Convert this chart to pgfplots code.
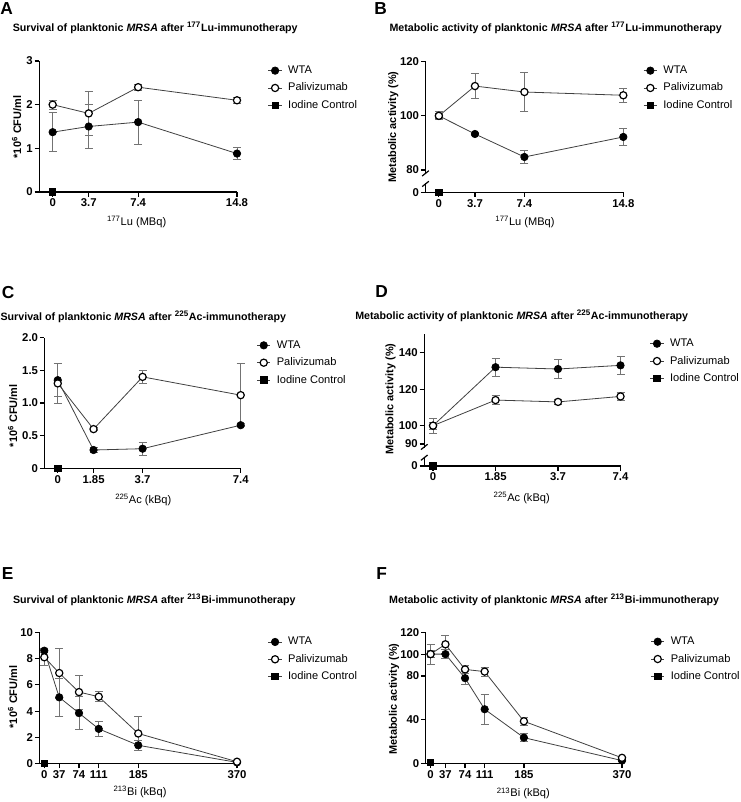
\documentclass[border=0pt]{standalone}
\usepackage{fontspec}
\setmainfont{Liberation Sans}
\usepackage{pgfplots}
\pgfplotsset{compat=1.18}
\pgfplotsset{
 base/.style={
   scale only axis, clip=false,
   axis x line=bottom, axis y line=left,
   axis line style={-, line width=0.9pt, black},
   tick align=outside, major tick length=3.5pt,
   tick style={black, line width=0.9pt},
   /pgf/number format/assume math mode=true,
   ticklabel style={font=\bfseries\fontsize{8.5}{9.5}\selectfont},
   yticklabel style={inner sep=1.2pt},
   xticklabel style={inner sep=1.5pt},
   legend style={draw=none, fill=none, inner sep=0pt, outer sep=0pt, anchor=west,
     font=\fontsize{8.3}{9.3}\selectfont, row sep=5.1pt, column sep=4.5pt,
     nodes={inner sep=0pt, text height=6.2pt, text depth=1.7pt}},
   legend cell align=left,
   legend image code/.code={\draw[mark repeat=2,mark phase=2] plot coordinates {(0pt,0pt) (5pt,0pt) (10pt,0pt)};},
 },
 wta/.style={black!75, line width=0.6pt, mark=*, mark size=2.8pt,
   mark options={solid, fill=black, draw=black, line width=0.5pt},
   error bars/y dir=both, error bars/y explicit,
   error bars/error bar style={black!55, line width=0.6pt},
   error bars/error mark options={rotate=90, black!55, mark size=3pt, line width=0.6pt}},
 pali/.style={black!75, line width=0.6pt, mark=*, mark size=2.7pt,
   mark options={solid, fill=white, draw=black, line width=0.9pt},
   error bars/y dir=both, error bars/y explicit,
   error bars/error bar style={black!55, line width=0.6pt},
   error bars/error mark options={rotate=90, black!55, mark size=3pt, line width=0.6pt}},
 iod/.style={black!75, line width=0.6pt, mark=square*, mark size=2.4pt,
   mark options={solid, fill=black, draw=black}},
}
\begin{document}
\begin{tikzpicture}
\path[use as bounding box] (0,0) rectangle (555pt,601.5pt);

% ---------- A ----------
\begin{axis}[base, at={(29.475pt,457.5pt)}, anchor=south west,
  width=148.275pt, height=98.25pt,
  xmin=0, xmax=14.8, ymin=0, ymax=3,
  xtick={1,3.7,7.4,14.8}, xticklabels={0,3.7,7.4,14.8},
  ytick={0,1,2,3},
  legend style={at={(1.157,0.794)}}]
\addplot[wta] coordinates {(1,1.37)+-(0,0.45) (3.7,1.5)+-(0,0.5) (7.4,1.6)+-(0,0.5) (14.8,0.88)+-(0,0.13)};
\addplot[pali] coordinates {(1,2.0)+-(0,0.1) (3.7,1.8)+-(0,0.5) (7.4,2.4)+-(0,0.07) (14.8,2.1)+-(0,0.07)};
\addplot[iod] coordinates {(1,0)};
\legend{WTA,Palivizumab,Iodine Control}
\end{axis}

% ---------- B ----------
\begin{axis}[base, at={(319.125pt,470.96pt)}, anchor=south west,
  width=148.35pt, height=84.26pt,
  xmin=0, xmax=14.8, ymin=78.5, ymax=120,
  axis x line=none, ytick={80,100,120},
  legend style={at={(1.101,0.766)}}]
\addplot[wta] coordinates {(1,100)+-(0,1.5) (3.7,93.3)+-(0,0.5) (7.4,84.8)+-(0,2.5) (14.8,92.2)+-(0,3.3)};
\addplot[pali] coordinates {(1,100)+-(0,1) (3.7,111)+-(0,4.5) (7.4,108.8)+-(0,7.2) (14.8,107.6)+-(0,2.5)};
\addlegendimage{iod}
\legend{WTA,Palivizumab,Iodine Control}
\draw[black, line width=0.9pt] (rel axis cs:0,0) ++(-2.5pt,-1.5pt) -- ++(5pt,4pt);
\end{axis}
\begin{axis}[base, at={(319.125pt,457.275pt)}, anchor=south west,
  width=148.35pt, height=6.75pt,
  xmin=0, xmax=14.8, ymin=0, ymax=1,
  xtick={1,3.7,7.4,14.8}, xticklabels={0,3.7,7.4,14.8}, ytick={0}]
\addplot[iod] coordinates {(1,0)};
\draw[black, line width=0.9pt] (rel axis cs:0,1) ++(-2.5pt,-2.5pt) -- ++(5pt,4pt);
\end{axis}

% ---------- C ----------
\begin{axis}[base, at={(33.375pt,250.275pt)}, anchor=south west,
  width=147.15pt, height=97.95pt,
  xmin=0, xmax=7.4, ymin=0, ymax=2,
  xtick={0.5,1.85,3.7,7.4}, xticklabels={0,1.85,3.7,7.4},
  ytick={0,0.5,1,1.5,2}, yticklabels={0,0.5,1.0,1.5,2.0},
  legend style={at={(1.0815,0.8086)}}]
\addplot[wta] coordinates {(0.5,1.35)+-(0,0.25) (1.85,0.28)+-(0,0.04) (3.7,0.30)+-(0,0.1) (7.4,0.66)+-(0,0.02)};
\addplot[pali] coordinates {(0.5,1.30)+-(0,0.3) (1.85,0.60)+-(0,0.02) (3.7,1.40)+-(0,0.1) (7.4,1.12)+-(0,0.48)};
\addplot[iod] coordinates {(0.5,0)};
\legend{WTA,Palivizumab,Iodine Control}
\end{axis}

% ---------- D ----------
\begin{axis}[base, at={(318.225pt,265.8pt)}, anchor=south west,
  width=147.15pt, height=84.975pt,
  xmin=-0.14, xmax=3, ymin=88, ymax=150,
  axis x line=none, ytick={90,100,120,140},
  legend style={at={(1.150,0.764)}}]
\addplot[wta] coordinates {(0,100)+-(0,4) (1,132)+-(0,5) (2,131)+-(0,5) (3,133)+-(0,5)};
\addplot[pali] coordinates {(0,100)+-(0,2) (1,114)+-(0,2.5) (2,113)+-(0,1.5) (3,116)+-(0,2)};
\addlegendimage{iod}
\legend{WTA,Palivizumab,Iodine Control}
\draw[black, line width=0.9pt] (rel axis cs:0,0) ++(-2.5pt,-1.5pt) -- ++(5pt,4pt);
\end{axis}
\begin{axis}[base, at={(318.225pt,252pt)}, anchor=south west,
  width=147.15pt, height=6.75pt,
  xmin=-0.14, xmax=3, ymin=0, ymax=1,
  xtick={0,1,2,3}, xticklabels={0,1.85,3.7,7.4}, ytick={0}]
\addplot[iod] coordinates {(0,0)};
\draw[black, line width=0.9pt] (rel axis cs:0,1) ++(-2.5pt,-2.5pt) -- ++(5pt,4pt);
\end{axis}

% ---------- E ----------
\begin{axis}[base, at={(29.625pt,28.725pt)}, anchor=south west,
  width=148.125pt, height=98.55pt,
  xmin=0, xmax=370, ymin=0, ymax=10,
  xtick={9,37,74,111,185,370}, xticklabels={0,37,74,111,185,370},
  ytick={0,2,4,6,8,10},
  legend style={at={(1.157,0.7945)}}]
\addplot[wta] coordinates {(9,8.6)+-(0,0.15) (37,5.05)+-(0,1.45) (74,3.85)+-(0,1.25) (111,2.65)+-(0,0.55) (185,1.4)+-(0,0.4) (370,0.1)+-(0,0.05)};
\addplot[pali] coordinates {(9,8.1)+-(0,0.6) (37,6.9)+-(0,1.9) (74,5.45)+-(0,1.3) (111,5.1)+-(0,0.38) (185,2.3)+-(0,1.3) (370,0.15)+-(0,0.05)};
\addplot[iod] coordinates {(9,0)};
\legend{WTA,Palivizumab,Iodine Control}
\end{axis}

% ---------- F ----------
\begin{axis}[base, at={(319.35pt,29.025pt)}, anchor=south west,
  width=147.15pt, height=98.25pt,
  xmin=0, xmax=370, ymin=0, ymax=120,
  xtick={9,37,74,111,185,370}, xticklabels={0,37,74,111,185,370},
  ytick={0,40,80,100,120},
  legend style={at={(1.146,0.796)}}]
\addplot[wta] coordinates {(9,100)+-(0,3) (37,100)+-(0,4) (74,78)+-(0,6) (111,49.5)+-(0,13.5) (185,23.5)+-(0,3.5) (370,2.5)+-(0,1)};
\addplot[pali] coordinates {(9,100)+-(0,9) (37,109)+-(0,8) (74,86)+-(0,4) (111,84)+-(0,4) (185,38.5)+-(0,4) (370,5)+-(0,1)};
\addplot[iod] coordinates {(9,1)};
\legend{WTA,Palivizumab,Iodine Control}
\end{axis}

% ---------- texts ----------
\tikzset{plet/.style={anchor=base west, inner sep=0pt, font=\bfseries\fontsize{13}{15}\selectfont},
  ttl/.style={anchor=base, inner sep=0pt, font=\bfseries\fontsize{8}{9.6}\selectfont},
  ylab/.style={rotate=90, inner sep=0pt, font=\bfseries\fontsize{8.2}{9.8}\selectfont},
  xlab/.style={inner sep=0pt, font=\fontsize{8.3}{9.8}\selectfont}}
\node[plet] at (0pt,590.25pt) {A};
\node[plet] at (280.5pt,590.25pt) {B};
\node[plet] at (1.3pt,377.8pt) {C};
\node[plet] at (281.25pt,378.2pt) {D};
\node[plet] at (1.3pt,166.5pt) {E};
\node[plet] at (282pt,166.5pt) {F};

\node[ttl] at (116.4pt,577.7pt) {Survival of planktonic \textit{MRSA} after \textsuperscript{177}Lu-immunotherapy};
\node[ttl] at (416.8pt,577.7pt) {Metabolic activity of planktonic \textit{MRSA} after \textsuperscript{177}Lu-immunotherapy};
\node[ttl] at (107.5pt,361.0pt) {Survival of planktonic \textit{MRSA} after \textsuperscript{225}Ac-immunotherapy};
\node[ttl] at (391.3pt,362.0pt) {Metabolic activity of planktonic \textit{MRSA} after \textsuperscript{225}Ac-immunotherapy};
\node[ttl] at (115.7pt,149.0pt) {Survival of planktonic \textit{MRSA} after \textsuperscript{213}Bi-immunotherapy};
\node[ttl] at (415.6pt,149.0pt) {Metabolic activity of planktonic \textit{MRSA} after \textsuperscript{213}Bi-immunotherapy};

\node[ylab] at (12.5pt,506.25pt) {*10\textsuperscript{6} CFU/ml};
\node[ylab] at (295pt,506.25pt) {Metabolic activity (\%)};
\node[ylab] at (9.5pt,289.7pt) {*10\textsuperscript{6} CFU/ml};
\node[ylab] at (293pt,302.1pt) {Metabolic activity (\%)};
\node[ylab] at (9.5pt,78.75pt) {*10\textsuperscript{6} CFU/ml};
\node[ylab] at (295.5pt,77.25pt) {Metabolic activity (\%)};

\node[xlab] at (102.5pt,435.2pt) {\textsuperscript{177}Lu (MBq)};
\node[xlab] at (393.75pt,435.2pt) {\textsuperscript{177}Lu (MBq)};
\node[xlab] at (107.5pt,226.5pt) {\textsuperscript{225}Ac (kBq)};
\node[xlab] at (391.3pt,227.8pt) {\textsuperscript{225}Ac (kBq)};
\node[xlab] at (105pt,7.7pt) {\textsuperscript{213}Bi (kBq)};
\node[xlab] at (392.5pt,6.5pt) {\textsuperscript{213}Bi (kBq)};
\end{tikzpicture}
\end{document}
